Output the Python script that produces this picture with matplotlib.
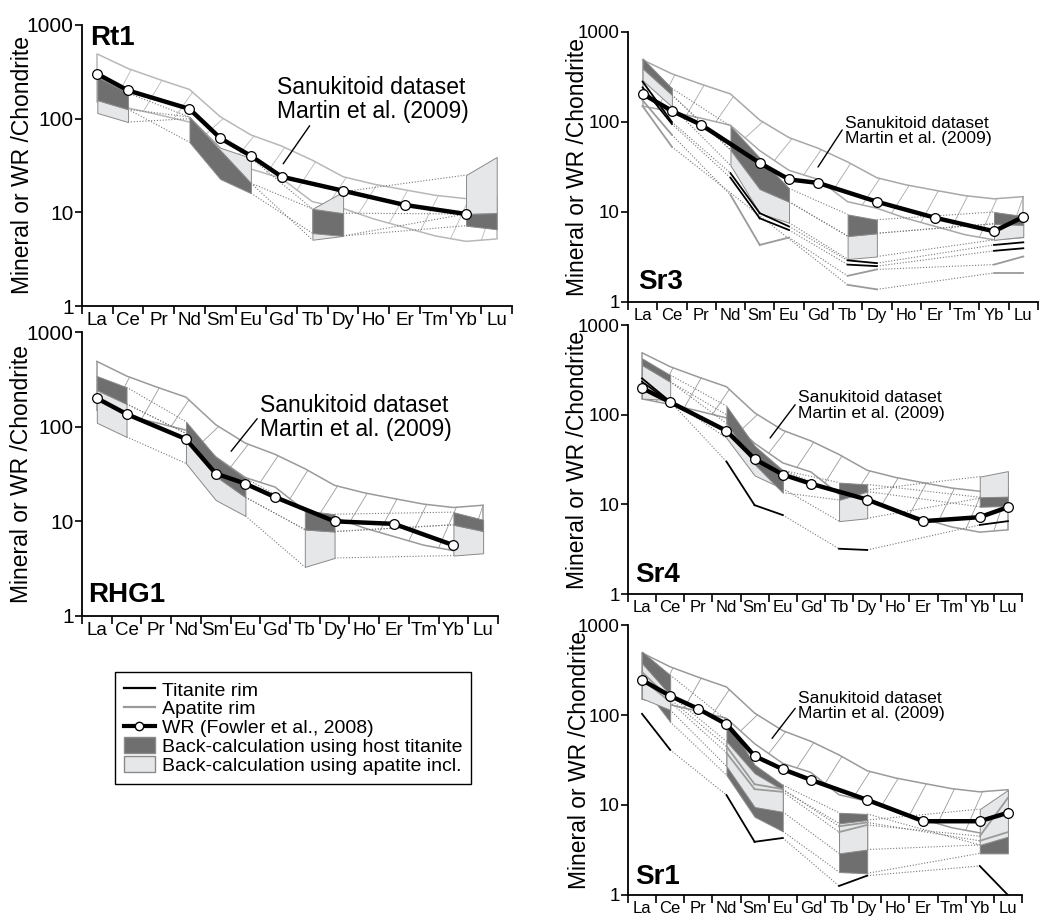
import matplotlib

matplotlib.use("Agg")
import matplotlib.pyplot as plt
import numpy as np
from matplotlib.lines import Line2D
from matplotlib.patches import Patch
from matplotlib.ticker import FixedLocator, NullFormatter, NullLocator

plt.rcParams["font.family"] = ["Liberation Sans", "DejaVu Sans"]

REE = ["La", "Ce", "Pr", "Nd", "Sm", "Eu", "Gd", "Tb", "Dy", "Ho", "Er", "Tm", "Yb", "Lu"]

# sanukitoid envelope (Martin et al. 2009), chondrite normalised
SANUKITOID_UPPER = [490, 343, 263, 205, 105, 67, 51, 36, 24, 20, 17.4, 15.2, 14, 14.8]
SANUKITOID_LOWER = [150, 130, 110, 92, 48, 29, 23, 13, 11, 8.5, 6.9, 5.6, 4.9, 5.2]

# whole rock (Fowler et al. 2008); None = not plotted
RT1_WR = [300, 200, None, 127, 62, 40, 24, None, 17, None, 12, None, 9.6, None]
RHG1_WR = [200, 136, None, 74, 32, 25, 18, None, 10, None, 9.4, None, 5.6, None]
SR3_WR = [205, 133, 93, None, 35, 23, 21, None, 13, None, 8.6, None, 6.1, 8.8]
SR4_WR = [198, 138, None, 66, 32, 21.5, 17, None, 11.3, None, 6.5, None, 7.2, 9.3]
SR1_WR = [245, 163, 117, 79, 35, 25, 19, None, 11.4, None, 6.6, None, 6.6, 8.2]

# back-calculated melt bands: (kind, first element, lower values, upper values)
RT1_BANDS = [
    ("ap", "La", [115, 92], [158, 126]),
    ("ttn", "La", [158, 126], [279, 188]),
    ("ap", "Nd", [100, 46, 20.5], [104, 49, 38]),
    ("ttn", "Nd", [56, 22.7, 16], [104, 46, 20.5]),
    ("ap", "Tb", [5.1, 5.6], [10.9, 16.6]),
    ("ttn", "Tb", [6.0, 5.6], [10.9, 9.8]),
    ("ap", "Yb", [9.6, 9.8], [25, 39]),
    ("ttn", "Yb", [7.2, 6.6], [9.6, 9.8]),
]
RHG1_BANDS = [
    ("ap", "La", [110, 78], [244, 174]),
    ("ttn", "La", [244, 174], [343, 261]),
    ("ap", "Nd", [41, 16.8, 11.4], [85, 30, 18]),
    ("ttn", "Nd", [85, 30, 18], [113, 48, 28.5]),
    ("ap", "Tb", [3.3, 4.1], [8.2, 7.8]),
    ("ttn", "Tb", [8.2, 7.8], [13, 11.9]),
    ("ap", "Yb", [4.35, 4.6], [9.2, 7.9]),
    ("ttn", "Yb", [9.2, 7.9], [12.5, 10.4]),
]
SR3_BANDS = [
    ("ap", "La", [290, 148], [395, 200]),
    ("ttn", "La", [395, 200], [509, 237]),
    ("ap", "Nd", [33, 9.7, 7.6], [49, 18, 13]),
    ("ttn", "Nd", [49, 18, 13], [90, 40, 18.3]),
    ("ap", "Tb", [3.0, 3.2], [5.4, 5.8]),
    ("ttn", "Tb", [5.4, 5.8], [9.4, 8.2]),
    ("ap", "Yb", [4.9, 5.3], [7.4, 7.2]),
    ("ttn", "Yb", [7.4, 7.2], [10, 9.0]),
]
SR4_BANDS = [
    ("ap", "La", [151, 146], [358, 233]),
    ("ttn", "La", [358, 233], [425, 277]),
    ("ap", "Nd", [55, 21, 15], [100, 40, 24]),
    ("ttn", "Nd", [80, 28, 13.5], [125, 45, 24]),
    ("ap", "Tb", [6.5, 7.0], [13.3, 14.5]),
    ("ttn", "Tb", [11.2, 13.9], [17.5, 16.7]),
    ("ap", "Yb", [11.7, 12], [20.4, 23.5]),
    ("ttn", "Yb", [9.4, 9.6], [12, 12.2]),
]
SR1_BANDS = [
    ("ttn", "La", [215, 84], [506, 278]),
    ("ap", "La", [153, 114], [375, 167]),
    ("ttn", "Nd", [21.5, 7.4, 5.1], [88, 28, 16.7]),
    ("ap", "Nd", [27, 9.5, 8.4], [51, 22.5, 14.7]),
    ("ttn", "Tb", [1.8, 1.74], [8.2, 7.95]),
    ("ap", "Tb", [2.9, 3.2], [6.25, 6.8]),
    ("ttn", "Yb", [2.9, 2.9], [3.6, 4.45]),
    ("ap", "Yb", [3.6, 4.45], [9.0, 14.7]),
]

# titanite and apatite rim analyses
SR3_TTN_RIM = [
    [281, 100, None, 27, 9.7, 6.9, None, 2.9, 2.7, None, None, None, 4.3, 4.6],
    [242, 95, None, 24, 8.5, 6.3, None, 2.6, 2.5, None, None, None, 3.7, 3.95],
]
SR3_AP_RIM = [
    [174, 72, None, 15.5, 4.3, 5.2, None, 1.95, 2.3, None, None, None, 2.6, 3.2],
    [150, 53, None, None, None, None, None, 1.55, 1.38, None, None, None, 2.1, 2.1],
]
SR4_TTN_RIM = [
    [254, 140, None, 30, 9.8, 7.6, None, 3.2, 3.1, None, None, None, 5.9, 6.5],
    [233, 138, None, None, None, None, None, None, None, None, None, None, None, None],
]
SR1_TTN_RIM = [
    [103, 41, None, 12.9, 3.9, 4.3, None, 1.26, 1.64, None, None, None, 2.1, 1.0],
]
SR1_AP_RIM = [
    [300, 150, None, 45, 17, 15, None, 5.8, 6.4, None, None, None, 4.0, 5.0],
    [250, 140, None, 38, 15, 14, None, 5.0, 6.0, None, None, None, 4.5, 12],
]

DARK = "#6f6f6f"
LIGHT = "#e6e7e8"
EDGE = "#8a8a8a"
AP_GREY = "#9a9a9a"
DOTTED = dict(color="#777777", lw=0.8, ls=(0, (1, 1.6)), zorder=2)

PANELS = [
    dict(name="Rt1", rect=[0.0785, 0.6681, 0.412, 0.3048], wr=RT1_WR, bands=RT1_BANDS,
         ttn=[], ap=[], title_xy=(0.02, 0.955), ylab_x=-0.112, env="#b8b8b8",
         note_xy=(5.85, 160), note_tip=(6.05, 33), note_rel=(0.18, 0.0), note_fs=16.5,
         ytick_fs=15, xtick_fs=13.5),
    dict(name="RHG1", rect=[0.0785, 0.3319, 0.3985, 0.3080], wr=RHG1_WR, bands=RHG1_BANDS,
         ttn=[], ap=[], title_xy=(0.014, 0.074), ylab_x=-0.118, env="#9a9a9a",
         note_xy=(5.49, 125), note_tip=(4.52, 55), note_rel=(0.01, 0.6), note_fs=16.5,
         ytick_fs=15, xtick_fs=13.5),
    dict(name="Sr3", rect=[0.6015, 0.6725, 0.3927, 0.2928], wr=SR3_WR, bands=SR3_BANDS,
         ttn=SR3_TTN_RIM, ap=SR3_AP_RIM, title_xy=(0.024, 0.074), ylab_x=-0.095, env="#a8a8a8",
         note_xy=(6.91, 79), note_tip=(5.99, 31.6), note_rel=(0.0, 0.68), note_fs=12.6,
         ytick_fs=13.5, xtick_fs=12),
    dict(name="Sr4", rect=[0.6015, 0.3557, 0.3774, 0.2918], wr=SR4_WR, bands=SR4_BANDS,
         ttn=SR4_TTN_RIM, ap=[], title_xy=(0.018, 0.07), ylab_x=-0.099, env="#9a9a9a",
         note_xy=(5.54, 127), note_tip=(4.55, 55), note_rel=(0.0, 0.64), note_fs=12.6,
         ytick_fs=13.5, xtick_fs=12),
    dict(name="Sr1", rect=[0.6015, 0.0293, 0.3774, 0.2928], wr=SR1_WR, bands=SR1_BANDS,
         ttn=SR1_TTN_RIM, ap=SR1_AP_RIM, title_xy=(0.018, 0.067), ylab_x=-0.094, env="#9a9a9a",
         note_xy=(5.54, 126), note_tip=(4.62, 55), note_rel=(0.0, 0.54), note_fs=12.6,
         ytick_fs=13.5, xtick_fs=12),
]


def to_array(values):
    return np.array([np.nan if v is None else v for v in values], dtype=float)


def draw_envelope(ax, color):
    x = np.arange(len(REE))
    up = np.array(SANUKITOID_UPPER, dtype=float)
    lo = np.array(SANUKITOID_LOWER, dtype=float)
    ax.plot(x, up, color=color, lw=1.1, zorder=1)
    ax.plot(x, lo, color=color, lw=1.1, zorder=1)
    ax.vlines([x[0], x[-1]], [lo[0], lo[-1]], [up[0], up[-1]], color=color, lw=1.1, zorder=1)
    # one diagonal hatch stroke per element step
    for i in range(len(REE) - 1):
        xa, xb = i + 0.5, min(i + 1.1, x[-1])
        ya = 10 ** np.interp(xa, x, np.log10(lo))
        yb = 10 ** np.interp(xb, x, np.log10(up))
        ax.plot([xa, xb], [ya, yb], color=color, lw=0.6, zorder=1)


def draw_bands(ax, bands):
    ends = {}
    for kind, first, lo, hi in bands:
        i0 = REE.index(first)
        xs = np.arange(i0, i0 + len(lo))
        face = DARK if kind == "ttn" else LIGHT
        ax.fill_between(xs, lo, hi, facecolor=face, edgecolor=EDGE, lw=0.7, zorder=3)
        if kind in ends:
            px, plo, phi = ends[kind]
            ax.plot([px, xs[0]], [plo, lo[0]], **DOTTED)
            ax.plot([px, xs[0]], [phi, hi[0]], **DOTTED)
        ends[kind] = (xs[-1], lo[-1], hi[-1])


def draw_rim(ax, values, color):
    y = to_array(values)
    idx = np.flatnonzero(~np.isnan(y))
    for a, b in zip(idx[:-1], idx[1:]):
        if b - a == 1:
            ax.plot([a, b], y[[a, b]], color=color, lw=1.3, zorder=4)
        else:
            ax.plot([a, b], y[[a, b]], **DOTTED)


def draw_wr(ax, values):
    y = to_array(values)
    x = np.arange(len(REE))
    keep = ~np.isnan(y)
    ax.plot(x[keep], y[keep], color="black", lw=3.2, marker="o", ms=7, mfc="white",
            mec="black", mew=0.9, zorder=6, solid_joinstyle="round")


def style_axes(ax, ytick_fs, xtick_fs, ylab_x):
    ax.set_yscale("log")
    ax.set_ylim(1, 1000)
    ax.set_xlim(-0.5, len(REE) - 0.5)
    ax.spines[["top", "right"]].set_visible(False)
    for side in ("left", "bottom"):
        ax.spines[side].set_linewidth(1.3)
    ax.yaxis.set_major_locator(FixedLocator([1, 10, 100, 1000]))
    ax.yaxis.set_minor_locator(NullLocator())
    ax.set_yticks([1, 10, 100, 1000], ["1", "10", "100", "1000"])
    ax.set_xticks(np.arange(-0.5, len(REE)))
    ax.xaxis.set_major_formatter(NullFormatter())
    ax.set_xticks(np.arange(len(REE)), REE, minor=True)
    ax.tick_params(axis="x", which="major", length=6, width=1.2, direction="out")
    ax.tick_params(axis="x", which="minor", length=0, pad=4, labelsize=xtick_fs)
    ax.tick_params(axis="y", which="major", length=5, width=1.2, pad=1, labelsize=ytick_fs)
    ax.set_ylabel("Mineral or WR /Chondrite", fontsize=16.5)
    ax.yaxis.set_label_coords(ylab_x, 0.5)


fig = plt.figure(figsize=(10.44, 9.22), dpi=100)

for p in PANELS:
    ax = fig.add_axes(p["rect"])
    draw_envelope(ax, p["env"])
    draw_bands(ax, p["bands"])
    for rim in p["ap"]:
        draw_rim(ax, rim, AP_GREY)
    for rim in p["ttn"]:
        draw_rim(ax, rim, "black")
    draw_wr(ax, p["wr"])
    style_axes(ax, p["ytick_fs"], p["xtick_fs"], p["ylab_x"])
    ax.text(*p["title_xy"], p["name"], transform=ax.transAxes, fontsize=20,
            fontweight="bold", va="center", ha="left")
    ax.annotate("Sanukitoid dataset\nMartin et al. (2009)", xy=p["note_tip"],
                xytext=p["note_xy"], fontsize=p["note_fs"], ha="left", va="center",
                linespacing=1.05, zorder=7,
                arrowprops=dict(arrowstyle="-", color="black", lw=1.0,
                                relpos=p["note_rel"], shrinkA=0, shrinkB=0))

handles = [
    Line2D([], [], color="black", lw=1.6),
    Line2D([], [], color=AP_GREY, lw=1.6),
    Line2D([], [], color="black", lw=3, marker="o", ms=6, mfc="white", mec="black"),
    Patch(facecolor=DARK, edgecolor=EDGE),
    Patch(facecolor=LIGHT, edgecolor=EDGE),
]
labels = [
    "Titanite rim",
    "Apatite rim",
    "WR (Fowler et al., 2008)",
    "Back-calculation using host titanite",
    "Back-calculation using apatite incl.",
]
leg = fig.legend(handles, labels, loc="upper left", bbox_to_anchor=(0.110, 0.271),
                 frameon=True, fancybox=False, edgecolor="black", framealpha=1,
                 fontsize=14, handlelength=1.6, handleheight=0.9, handletextpad=0.35,
                 labelspacing=0.0, borderpad=0.45, borderaxespad=0)
leg.get_frame().set_linewidth(1.0)

fig.savefig("out.png", dpi=100)
